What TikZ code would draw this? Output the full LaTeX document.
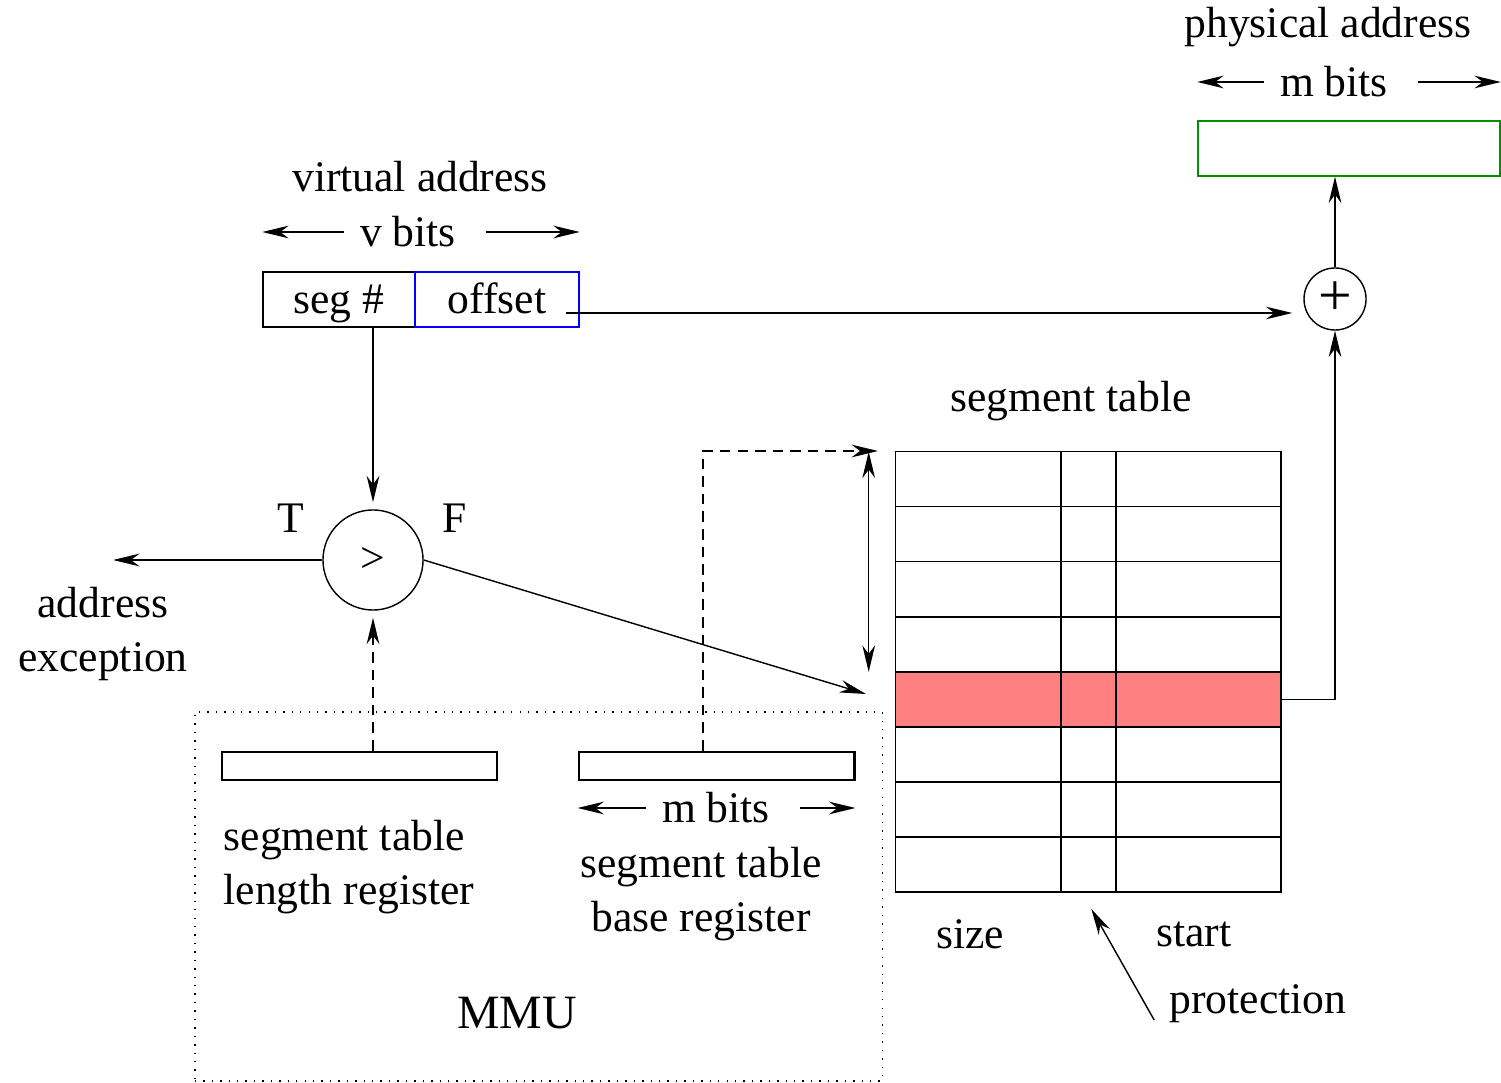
\documentclass[tikz,border=0pt]{standalone}
\usepackage{fontspec}
\setmainfont{Liberation Serif}
\usetikzlibrary{arrows.meta,matrix}
\definecolor{hitred}{RGB}{255,128,128}
\definecolor{physgreen}{RGB}{0,144,0}

\begin{document}
\begin{tikzpicture}[x=0.01cm,y=-0.01cm,
    font=\fontsize{12.4}{15.4}\selectfont,
    >={Stealth[length=7.5pt,width=3.6pt,inset=2.4pt]},
    field/.style={draw,minimum height=0.55cm,inner sep=0,text height=9.3pt,text depth=1.6pt},
    reg/.style={draw,line width=0.8pt,minimum width=2.75cm,minimum height=0.28cm,inner sep=0},
    ring/.style={draw,circle,inner sep=0},
    dashline/.style={dash pattern=on 3pt off 2pt}]
  \useasboundingbox (0,0) rectangle (1501,1083);

  % virtual address
  \node (va) at (420,177) {virtual address};
  \node[inner sep=0.15cm] (vb) at (408,232) {v bits};
  \node[field,minimum width=1.52cm] (seg) at (339,299.5) {seg \#};
  \node[field,draw=blue,minimum width=1.64cm] (off) at (497,299.5) {offset};
  \draw[->] (vb.west) -- (vb.west -| seg.west);
  \draw[->] ([xshift=0.14cm]vb.east) -- (vb.east -| off.east);

  % physical address
  \node (pa) at (1328,27) {physical address};
  \node[inner sep=0.15cm] (pb) at (1334,82) {m bits};
  \node[field,draw=physgreen,minimum width=3.02cm] (phys) at (1349,148.5) {};
  \draw[->] (pb.west) -- (pb.west -| phys.west);
  \draw[->] ([xshift=0.14cm]pb.east) -- (pb.east -| phys.east);

  \node[ring,minimum size=0.62cm,font=\fontsize{17}{17}\selectfont] (add) at (1335,299) {+};
  \node[ring,minimum size=1cm] (cmp) at (373,560) {>};
  \node (t) at (291,518) {T};
  \node (f) at (455,518) {F};
  \node[align=center] (exc) at (103,634) {address\\exception};

  % segment table
  \node (sttl) at (1071,401) {segment table};
  \matrix (st) [matrix of nodes, nodes in empty cells, anchor=north west, inner sep=0, outer sep=0,
      row sep=-\pgflinewidth, column sep=-\pgflinewidth,
      nodes={draw,minimum height=0.55cm,inner sep=0},
      column 1/.style={nodes={minimum width=1.65cm}},
      column 2/.style={nodes={minimum width=0.55cm}},
      column 3/.style={nodes={minimum width=1.65cm}},
      row 5/.style={nodes={fill=hitred}}] at (895,451) {
    & & \\
    & & \\
    & & \\
    & & \\
    & & \\
    & & \\
    & & \\
    & & \\
  };
  \node (size) at (970,934) {size};
  \node (start) at (1194,934) {start};
  \node (prot) at (1258,1004) {protection};

  % MMU
  \node[draw,dotted,minimum width=6.87cm,minimum height=3.69cm,inner sep=0] (mmu) at (538.5,896.5) {};
  \node[font=\fontsize{13.6}{16}\selectfont] (mmulbl) at (517,1013) {MMU};
  \node[reg] (lenreg) at (359.5,766) {};
  \node[reg] (basereg) at (716.5,766) {};
  \node[align=left,anchor=west,inner sep=0] (lenlbl) at (223,867) {segment table\\length register};
  \node[inner sep=0.15cm] (mb) at (716,808) {m bits};
  \node[align=center] (baselbl) at (701,894) {segment table\\base register};
  \draw[->] (mb.west) -- (mb.west -| basereg.west);
  \draw[->] ([xshift=0.14cm]mb.east) -- (mb.east -| basereg.east);

  % connectors
  \coordinate (os) at (566,313);
  \coordinate (tend) at (113,560);
  \coordinate (hin) at (866,694);
  \draw[->,shorten >=0.07cm] (seg.south -| cmp) -- (cmp.north);
  \draw[->,shorten >=0.11cm] (os) -- (os -| add.west);
  \draw[->] (add.north) -- (add.north |- phys.south);
  \draw[->] (st-5-3.east) -| (add.south);
  \draw[->] (cmp.west) -- (tend);
  \draw[->] (cmp.east) -- (hin);
  \draw[dashline,->,shorten >=0.07cm] (cmp |- lenreg.north) -- (cmp.south);
  \draw[dashline,->] ([xshift=-0.135cm]basereg.north) |- ([xshift=-0.17cm]st.north west);
  \draw[<->] ([xshift=-0.27cm]st-1-1.north west) -- ([xshift=-0.27cm]st-5-1.north west);
  \draw[->] ([shift={(-0.03cm,-0.16cm)}]prot.west) -- ([shift={(0.03cm,-0.17cm)}]st-8-2.south);
\end{tikzpicture}
\end{document}
